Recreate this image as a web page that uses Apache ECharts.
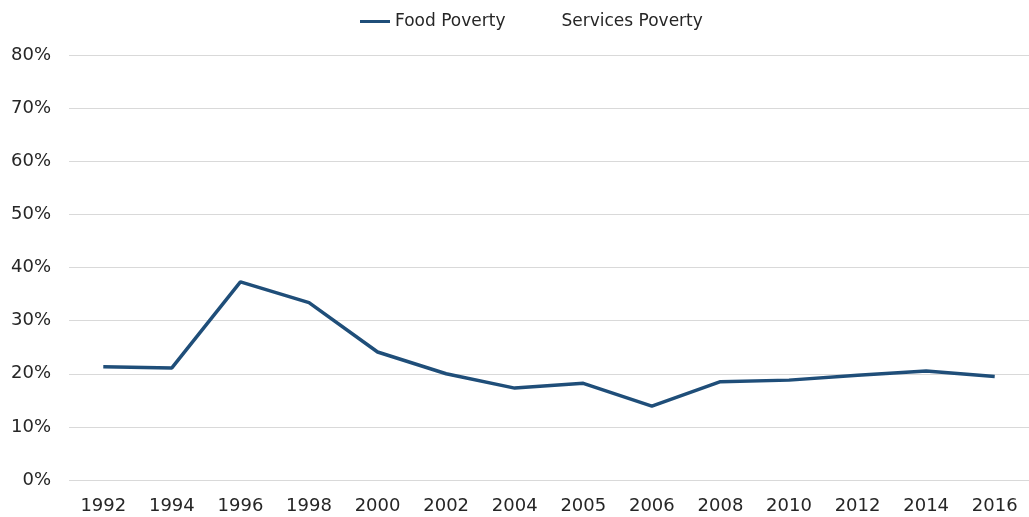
<!DOCTYPE html>
<html>
<head>
<meta charset="utf-8">
<script src="https://cdn.jsdelivr.net/npm/echarts@6/dist/echarts.min.js"></script>
<style>html,body{margin:0;padding:0;background:#fff}#c{width:1029px;height:517px}</style>
</head>
<body>
<div id="c"></div>
<script>
const categories = ['1992','1994','1996','1998','2000','2002','2004','2005','2006','2008','2010','2012','2014','2016'];
const foodPoverty = [21.3, 21.1, 37.3, 33.4, 24.1, 20.0, 17.3, 18.2, 13.9, 18.5, 18.8, 19.7, 20.5, 19.5];
const servicesPoverty = [];
const yTicks = [0, 10, 20, 30, 40, 50, 60, 70, 80];

const chart = echarts.init(document.getElementById('c'));
const font = '"DejaVu Sans", sans-serif';
chart.setOption({
  animation: false,
  legend: {
    top: 8,
    left: 355,
    itemWidth: 30,
    itemHeight: 3,
    itemGap: 21,
    textStyle: { fontFamily: font, fontSize: 17, color: '#262626' },
    data: [
      { name: 'Food Poverty', icon: 'rect' },
      { name: 'Services Poverty', icon: 'rect', itemStyle: { opacity: 0 } }
    ]
  },
  grid: { left: 69, right: -11, top: 55, bottom: 37, containLabel: false },
  xAxis: {
    type: 'category',
    data: categories,
    boundaryGap: true,
    axisLine: { show: false },
    axisTick: { show: false },
    axisLabel: { fontFamily: font, fontSize: 18, color: '#262626', margin: 17 }
  },
  yAxis: {
    type: 'value',
    min: yTicks[0],
    max: yTicks[yTicks.length - 1],
    interval: 10,
    axisLine: { show: false },
    axisTick: { show: false },
    splitLine: { lineStyle: { color: '#d9d9d9', width: 1 } },
    axisLabel: { fontFamily: font, fontSize: 18, color: '#262626', margin: 18, formatter: v => v + '%' }
  },
  series: [
    {
      name: 'Food Poverty',
      type: 'line',
      data: foodPoverty,
      symbol: 'none',
      lineStyle: { color: '#1f4e79', width: 3.5 },
      itemStyle: { color: '#1f4e79' }
    },
    {
      name: 'Services Poverty',
      type: 'line',
      data: servicesPoverty,
      symbol: 'none',
      lineStyle: { color: '#a5a5a5', width: 3.5 },
      itemStyle: { color: '#a5a5a5' }
    }
  ]
});
</script>
</body>
</html>
